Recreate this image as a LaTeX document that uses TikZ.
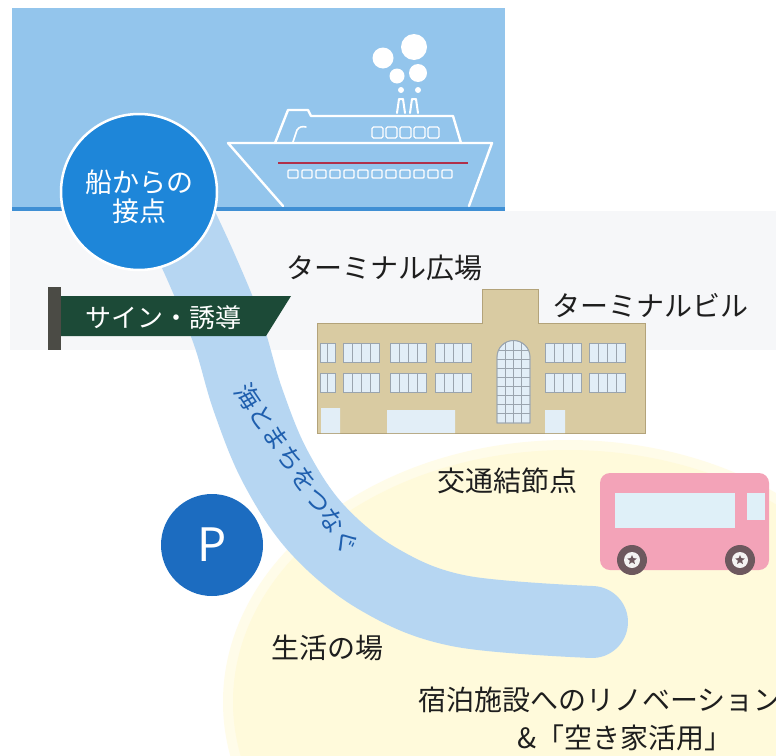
\documentclass[tikz,border=0pt]{standalone}
\usepackage{fontspec}
\newfontfamily\jp{Noto Sans CJK JP}
\usetikzlibrary{shapes.geometric}
\definecolor{sea}{HTML}{93C5EC}
\definecolor{seaedge}{HTML}{3F8FD4}
\definecolor{shipred}{HTML}{B0304A}
\definecolor{haze}{HTML}{F6F7F9}
\definecolor{meadow}{HTML}{FFFADB}
\definecolor{river}{HTML}{B6D6F2}
\definecolor{rivertxt}{HTML}{1F5FAE}
\definecolor{badge}{HTML}{1E86D9}
\definecolor{parking}{HTML}{1C6CC0}
\definecolor{signgreen}{HTML}{1C4A37}
\definecolor{post}{HTML}{4B4B45}
\definecolor{stone}{HTML}{D9CBA2}
\definecolor{stoneline}{HTML}{B3A37A}
\definecolor{glass}{HTML}{E2EEF7}
\definecolor{frame}{HTML}{9AA4AE}
\definecolor{busbody}{HTML}{F3A3B8}
\definecolor{buswin}{HTML}{DFF0F8}
\definecolor{tyre}{HTML}{6D585E}
\definecolor{ink}{HTML}{1E1E1E}
\tikzset{
  label/.style={font=\jp\fontsize{28}{32}\selectfont, text=ink, inner sep=0pt},
  shipline/.style={draw=white, line width=2.4pt, line join=round, line cap=round},
  pane/.style={fill=glass, draw=frame, line width=0.6pt},
  mullion/.style={draw=frame, line width=0.6pt},
}
\begin{document}
\begin{tikzpicture}[x=1pt,y=-1pt]
\useasboundingbox (0,0) rectangle (776,755);
\fill[white] (0,0) rectangle (776,755);

% pale grey strip behind the terminal square
\fill[haze] (10,211) rectangle (776,350);

% pale yellow living area
\fill[meadow!60] (568,702) ellipse [x radius=345, y radius=262];
\fill[meadow] (568,702) ellipse [x radius=335, y radius=252];

% sea
\fill[sea] (12,8) rectangle (505,211);
\fill[seaedge] (12,207) rectangle (505,211);

% ship
\draw[shipline] (283,206) -- (228,143) -- (492,143) -- (469,206);
\draw[shipline] (275,143) -- (288,110) -- (308,110) -- (311,116) -- (453,116) -- (461,143);
\draw[shipline, line width=1.6pt] (293,142) -- (297,130) .. controls (299,127) and (302,126) .. (306,127);
\foreach \i in {0,...,4}
  \draw[white, line width=1.3pt, rounded corners=1.5pt] (372+14*\i,127) rectangle ++(11,11);
\draw[shipred, line width=2.6pt] (278,163) -- (468,163);
\foreach \i in {0,...,11}
  \draw[white, line width=1.2pt, rounded corners=1pt] (288+14*\i,170) rectangle ++(10,8);
\draw[shipline, line width=2pt] (397,113) -- (399,99) -- (403,99) -- (405,113);
\draw[shipline, line width=2pt] (410,113) -- (412,99) -- (416,99) -- (418,113);
\fill[white] (383,58) circle (10.5) (414,47) circle (13) (397,76) circle (7.5)
             (418,73) circle (9) (401,90) circle (3) (418,90) circle (3);

% the path linking sea and town
\draw[river, line width=72pt, line cap=round]
  plot[smooth, tension=0.6] coordinates {(172,205) (201,267) (228,333) (248,400) (276,468) (318,530) (380,580) (460,611) (592,622)};

% contact point with ships
\node[circle, fill=badge, draw=white, line width=2.5pt, minimum size=156pt, inner sep=0pt] (contact) at (139,192) {};
\node[font=\jp\fontsize{27}{31}\selectfont, text=white, align=center] (contacttext) at (139,197)
  {船からの\\[-2pt]接点};

% signpost
\fill[post] (48,287) rectangle (61,350);
\fill[signgreen] (61,296) -- (291,296) -- (266,336) -- (61,336) -- cycle;
\node[font=\jp\fontsize{26}{30}\selectfont, text=white, inner sep=0pt] (sign) at (163,318) {サイン・誘導};

% terminal building
\filldraw[fill=stone, draw=stoneline, line width=0.8pt]
  (317,433) -- (317,323) -- (482,323) -- (482,289) -- (538,289) -- (538,323) -- (645,323) -- (645,433) -- cycle;
\foreach \y in {343,373} {
  \draw[pane] (320,\y) rectangle ++(15,19);
  \draw[mullion] (327.5,\y) -- ++(0,19);
  \foreach \x in {343,390,435,545,589} {
    \draw[pane] (\x,\y) rectangle ++(36,19);
    \foreach \d in {9,18,27} \draw[mullion] (\x+\d,\y) -- ++(0,19);
  }
}
\path[pane] (497,423) -- (497,357) arc[start angle=180, end angle=360, radius=16.5] -- (530,423) -- cycle;
\begin{scope}
  \clip (497,423) -- (497,357) arc[start angle=180, end angle=360, radius=16.5] -- (530,423) -- cycle;
  \foreach \x in {505.5,513.5,521.5} \draw[mullion] (\x,335) -- (\x,425);
  \foreach \y in {350,359,368,377,386,395,404,413} \draw[mullion] (495,\y) -- (532,\y);
\end{scope}
\draw[frame, line width=0.9pt] (497,423) -- (497,357) arc[start angle=180, end angle=360, radius=16.5] -- (530,423) -- cycle;
\fill[glass] (321,408) rectangle (340,433) (387,410) rectangle (455,433) (545,410) rectangle (565,433);

% bus
\fill[busbody, rounded corners=10pt] (600,473) rectangle (769,570);
\fill[buswin] (615,493) rectangle (735,528);
\fill[buswin] (747,493) rectangle (765,520);
\foreach \x in {632,740} {
  \fill[tyre] (\x,560) circle (15);
  \fill[white!92!tyre] (\x,560) circle (8);
  \node[star, star points=5, star point ratio=2.2, fill=tyre, minimum size=10pt, inner sep=0pt] at (\x,560) {};
}

% parking
\node[circle, fill=parking, minimum size=102pt, inner sep=0pt] (park) at (212,545) {};
\node[font=\jp\fontsize{46}{50}\selectfont, text=white] (parktext) at (212,545) {P};

% labels
\node[label] (plaza) at (384,268) {ターミナル広場};
\node[label] (bldg) at (650,306) {ターミナルビル};
\node[label] (hub) at (507,481) {交通結節点};
\node[label] (life) at (327,648) {生活の場};
\node[label, anchor=west] (reno) at (418,700) {宿泊施設へのリノベーション};
\node[label] (vacant) at (625,738) {\&「空き家活用」};
\node[font=\jp\fontsize{25}{28}\selectfont, text=rivertxt, rotate=-56, inner sep=0pt] (rivertext) at (297,469) {海とまちをつなぐ};
\end{tikzpicture}
\end{document}
